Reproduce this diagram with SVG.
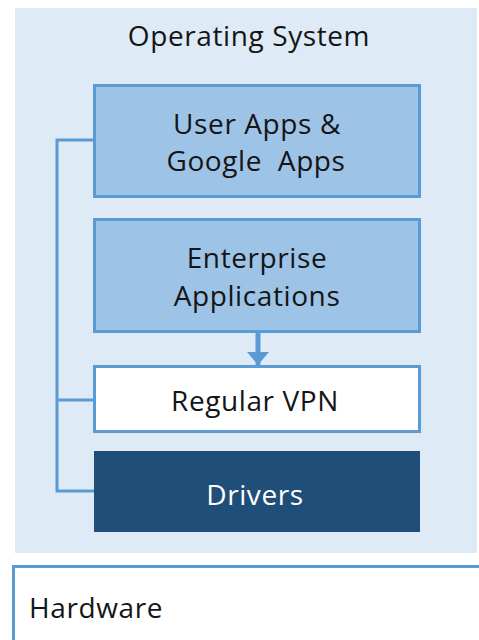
<svg xmlns="http://www.w3.org/2000/svg" width="479" height="640" viewBox="0 0 479 640">
  <style>
    text { font-family: "Open Sans", "Liberation Sans", Arial, sans-serif; font-size: 28px; fill: #151515; letter-spacing: 0.6px; }
    .mid { text-anchor: middle; }
    .app { fill: #9DC3E6; stroke: #5B9BD5; stroke-width: 3; }
    .plain { fill: #ffffff; stroke: #5B9BD5; stroke-width: 3; }
    .link { fill: none; stroke: #5B9BD5; stroke-width: 3; }
  </style>
  <defs>
    <marker id="arrowhead" markerWidth="2.6" markerHeight="4.4" refX="2.6" refY="2.2" orient="auto" markerUnits="strokeWidth">
      <path d="M0,0 L2.6,2.2 L0,4.4 Z" fill="#5B9BD5"/>
    </marker>
  </defs>

  <rect width="479" height="640" fill="#ffffff"/>

  <g id="os">
    <rect x="15" y="8" width="462" height="545" fill="#DEEBF7"/>
    <text class="mid" x="249" y="46">Operating System</text>
  </g>

  <g id="connectors">
    <path class="link" d="M93,140 H57 V491 H94"/>
    <path class="link" d="M57,400 H93"/>
    <line x1="258" y1="333" x2="258" y2="365" stroke="#5B9BD5" stroke-width="5" marker-end="url(#arrowhead)"/>
  </g>

  <g id="user-apps">
    <rect class="app" x="94.5" y="85.5" width="325" height="111"/>
    <text class="mid" x="257" y="134">User Apps &amp;</text>
    <text class="mid" x="256" y="171" xml:space="preserve">Google  Apps</text>
  </g>

  <g id="enterprise-apps">
    <rect class="app" x="94.5" y="219.5" width="325" height="112"/>
    <text class="mid" x="257" y="268">Enterprise</text>
    <text class="mid" x="257" y="306">Applications</text>
  </g>

  <g id="regular-vpn">
    <rect class="plain" x="94.5" y="366.5" width="325" height="65"/>
    <text class="mid" x="255" y="411">Regular VPN</text>
  </g>

  <g id="drivers">
    <rect x="94" y="451" width="326" height="81" fill="#1F4E79"/>
    <text class="mid" x="255" y="505" style="fill:#ffffff">Drivers</text>
  </g>

  <g id="hardware">
    <rect class="plain" x="13.5" y="566.5" width="470" height="80"/>
    <text x="29" y="618">Hardware</text>
  </g>
</svg>
